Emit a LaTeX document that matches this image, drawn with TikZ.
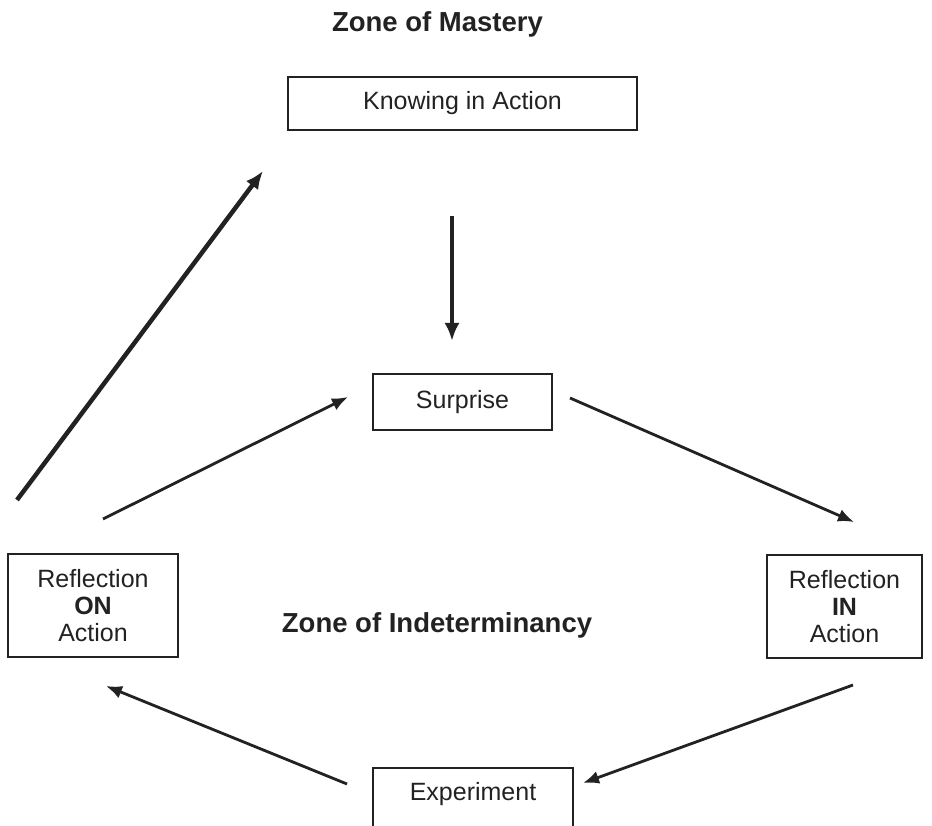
\documentclass[tikz,border=0pt]{standalone}
\usepackage{fontspec}
\setmainfont{Liberation Sans}
\usetikzlibrary{arrows.meta}
\definecolor{ink}{HTML}{222222}
\tikzset{
  box/.style={draw=ink, line width=2pt, inner sep=0pt, align=center, text=ink, font=\fontsize{25}{27}\selectfont},
  lbl/.style={text=ink, inner sep=0pt, font=\fontsize{27.5}{30}\selectfont\bfseries},
  thin/.style={draw=ink, line width=2.8pt, -{Latex[length=16pt,width=13pt]}},
  thick/.style={draw=ink, line width=4.5pt, -{Latex[length=18pt,width=15pt]}}
}
\begin{document}
\begin{tikzpicture}[x=1pt,y=-1pt]
\useasboundingbox[fill=white] (0,0) rectangle (932,826);
% titles
\node[lbl] (zm) at (437.5,24) {Zone of Mastery};
\node[lbl] (zi) at (437,625) {Zone of Indeterminancy};
% boxes
\node[box, minimum width=349pt, minimum height=53pt] (kia) at (462.5,103.5) {Knowing in Action};
\node[box, minimum width=179pt, minimum height=56pt] (sur) at (462.5,402) {Surprise};
\node[box, minimum width=170pt, minimum height=103pt] (ron) at (93,605.5) {Reflection\\\textbf{ON}\\Action};
\node[box, minimum width=155pt, minimum height=103pt] (rin) at (844.5,606.5) {Reflection\\\textbf{IN}\\Action};
\node[text=ink, inner sep=0pt, font=\fontsize{25}{27}\selectfont] (exp) at (473,794) {Experiment};
\draw[ink, line width=2pt] (373,826) -- (373,768) -- (573,768) -- (573,826);
% arrow endpoints
\coordinate (a1s) at (17,500);
\coordinate (a1e) at (263,171);
\coordinate (a2s) at (452,216);
\coordinate (a2e) at (452,341);
\coordinate (a3s) at (103,519);
\coordinate (a3e) at (348,397);
\coordinate (a4s) at (570,398);
\coordinate (a4e) at (854,522);
\coordinate (a5s) at (853,685);
\coordinate (a5e) at (583,783);
\coordinate (a6s) at (347,784);
\coordinate (a6e) at (106,686);
% arrows
\draw[thick] (a1s) -- (a1e);
\draw[thick] (a2s) -- (a2e);
\draw[thin] (a3s) -- (a3e);
\draw[thin] (a4s) -- (a4e);
\draw[thin] (a5s) -- (a5e);
\draw[thin] (a6s) -- (a6e);
\end{tikzpicture}
\end{document}
